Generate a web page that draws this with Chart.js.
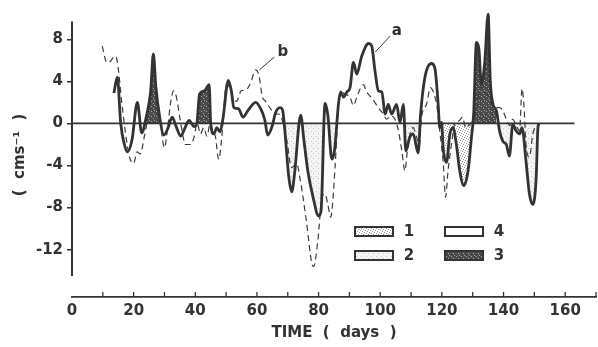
<!DOCTYPE html>
<html lang="en">
<head>
<meta charset="UTF-8">
<title>Current time series</title>
<script src="https://cdn.jsdelivr.net/npm/chart.js@4.4.1/dist/chart.umd.min.js"></script>
<style>
  body { margin: 0; background: #fff; }
</style>
</head>
<body>
<canvas id="myChart" width="598" height="347"></canvas>
<script>
// series a (solid) - days and values (cm/s)
const aDays = [13.6, 14.7, 15.8, 17.0, 18.0, 19.5, 21.2, 22.6, 24.0, 25.5, 26.4, 27.2, 28.3, 29.8, 31.2, 32.5, 33.8, 35.3, 36.4, 38.0,
    39.6, 40.5, 41.4, 43.0, 44.5, 45.0, 46.0, 47.0, 48.0, 49.0, 50.7, 51.7, 52.5, 54.0, 55.5, 57.0, 59.6, 61.2, 62.5, 63.5,
    65.0, 66.0, 67.5, 68.3, 69.0, 70.3, 71.3, 72.2, 74.2, 75.2, 76.5, 78.2, 80.0, 80.8, 82.1, 83.0, 84.3, 85.2, 86.5, 87.2,
    88.1, 89.2, 90.2, 91.3, 92.4, 94.0, 96.2, 97.2, 98.3, 99.4, 100.5, 101.6, 102.6, 103.7, 105.3, 106.4, 107.5, 108.3, 109.6, 110.7,
    112.3, 113.1, 114.5, 116.6, 117.7, 118.8, 119.3, 119.9, 120.4, 121.5, 122.6, 123.6, 124.7, 125.8, 127.1, 128.5, 129.6, 130.3, 131.2, 132.0,
    132.8, 133.9, 135.0, 135.7, 136.6, 137.7, 138.7, 139.8, 140.9, 141.9, 143.0, 144.1, 145.2, 146.0, 147.3, 148.4, 149.5, 150.6, 151.1, 151.4];
const aVals = [2.9, 4.4, 0, -2.0, -2.7, -1.5, 2.0, -0.9, 0.5, 3.0, 6.6, 3.5, 0.9, -1.1, -0.4, 0.6, -0.3, -1.2, -0.6, 0.3,
    -0.3, 0, 2.8, 3.1, 3.7, 0, -1.0, -0.4, -0.8, 0.5, 4.1, 3.1, 1.5, 1.4, 0.6, 1.2, 2.0, 1.4, 0.4, -1.1,
    -0.2, 1.0, 1.5, 1.3, -0.5, -5.0, -6.5, -4.8, 0.8, -1.5, -4.5, -7.0, -8.8, -8.3, 1.9, 0.8, -3.4, -2.5, 2.0, 3.0,
    2.5, 3.0, 3.4, 5.8, 4.7, 6.4, 7.6, 7.4, 5.0, 3.1, 3.0, 0.9, 1.8, 0.9, 1.8, 0.1, 1.8, -2.6, -1.3, -1.0,
    -2.8, 0.9, 4.4, 5.7, 5.3, 1.8, -0.4, 0.1, -2.3, -3.7, -1.0, -0.4, -2.0, -4.5, -5.9, -4.5, -1.3, 0.9, 7.7, 7.1,
    3.7, 5.8, 10.4, 4.1, 1.8, 1.2, -0.7, -1.7, -2.0, -3.1, -0.1, -0.7, -1.0, -0.4, -3.6, -6.7, -7.7, -5.1, -0.7, 0];

// series b (dashed)
const bDays = [9.8, 11.3, 12.1, 13.2, 14.2, 15.1, 16.1, 18.5, 20.0, 21.1, 22.1, 23.5, 24.5, 25.5, 26.3, 27.3, 28.5, 30.0, 31.0, 32.0,
    33.0, 33.8, 35.0, 36.0, 36.8, 38.5, 39.6, 40.6, 41.7, 42.7, 43.8, 44.8, 45.9, 46.5, 47.6, 48.5, 49.2, 50.1, 51.2, 52.2,
    53.3, 54.9, 56.5, 58.0, 59.6, 60.7, 61.7, 62.8, 64.4, 65.8, 67.0, 68.3, 69.7, 71.2, 72.9, 73.9, 76.0, 77.8, 78.4, 79.8,
    81.1, 82.1, 83.0, 83.9, 85.4, 86.1, 87.0, 88.6, 90.2, 91.3, 92.4, 93.5, 94.5, 95.6, 96.7, 97.8, 99.4, 101.0, 102.1, 103.3,
    104.8, 105.9, 107.0, 108.0, 108.8, 109.8, 110.7, 111.7, 112.7, 113.4, 115.0, 116.3, 117.2, 118.3, 119.3, 120.4, 121.2, 122.0, 123.1, 124.2,
    125.6, 126.7, 127.7, 129.0, 130.1, 131.4, 132.5, 134.0, 135.2, 136.2, 137.5, 138.7, 139.8, 140.9, 142.0, 143.0, 144.1, 145.2, 146.0, 146.6,
    147.3, 148.4, 149.5, 150.8, 152.0];
const bVals = [7.35, 5.8, 5.8, 6.2, 6.4, 5.0, 2.1, -3.0, -3.8, -2.7, -2.9, -1.2, 0.5, 3.5, 5.5, 3.0, 0.5, -2.3, -0.5, 2.0,
    3.1, 2.6, 0.5, -1.2, -2.0, -2.0, -1.3, 0, -1.0, -0.4, -1.2, 0, -0.9, -1.2, -3.4, -1.6, 1.2, 3.7, 3.4, 2.5,
    2.1, 3.1, 3.2, 3.9, 5.1, 4.5, 2.6, 2.1, 1.4, 0.9, 0.9, 0.25, -1.6, -4.2, -3.8, -5.1, -9.2, -13.3, -13.6, -11.0,
    -7.0, -6.7, -7.7, -8.9, -3.9, 0, 3.0, 2.8, 2.5, 1.7, 2.5, 3.3, 3.7, 3.0, 2.6, 2.2, 1.5, 0.9, 0.4, 0.7,
    0.4, -0.7, -2.6, -4.5, -2.6, -0.8, -0.4, -1.2, -2.1, 0.6, 1.8, 3.4, 3.0, 1.8, -0.7, -3.6, -7.0, -4.5, -2.0, 0,
    0.25, 0.6, -0.4, -0.1, 0.4, 1.5, 3.5, 3.0, 2.5, 1.8, 1.5, 1.5, 1.2, 0.4, -0.2, 0.4, -0.2, -0.7, 3.3, 1.8,
    -2.0, -3.2, -1.0, -0.2, 0];

// shaded stretches of series a (days)
const darkSpans = [[24.0, 28.3], [40.5, 45.0], [130.3, 137.7]];
const lightSpans = [[69.0, 86.5], [106.4, 113.1], [137.7, 151.4]];
const midSpans = [[119.3, 130.3]];

const zeroDays = [0, 163];
const zeroVals = [0, 0];

const xTickLabels = [0, 20, 40, 60, 80, 100, 120, 140, 160];
const xMinorTicks = [10, 20, 30, 40, 50, 60, 70, 80, 90, 100, 110, 120, 130, 140, 150, 160, 170];
const yTickLabels = [8, 4, 0, -4, -8, -12];
const yAxisRange = [9.7, -14.5];

const legendItems = ['1', '4', '2', '3'];
const curveNotes = [
    { text: 'a', at: [105.4, 8.8], from: [98.4, 6.8], to: [103.2, 8.3] },
    { text: 'b', at: [68.4, 6.8], from: [60.8, 5.1], to: [65.6, 6.3] }
];

const ink = '#333';

function makePattern(bg, dot, dots) {
    var c = document.createElement('canvas');
    c.width = 5; c.height = 5;
    var g = c.getContext('2d');
    g.fillStyle = bg;
    g.fillRect(0, 0, 5, 5);
    g.fillStyle = dot;
    dots.forEach(function (p) { g.fillRect(p[0], p[1], 1, 1); });
    return g.createPattern(c, 'repeat');
}
const darkFill = makePattern('#4a4a4a', '#a8a8a8', [[1, 1], [3, 3], [4, 0]]);
const midFill = makePattern('#ffffff', '#9a9a9a', [[0, 0], [2, 1], [4, 2], [1, 3], [3, 4]]);
const lightFill = makePattern('#f4f4f4', '#c4c4c4', [[1, 1], [3, 3]]);
const legendFills = { '1': midFill, '2': lightFill, '3': darkFill, '4': '#ffffff' };

function pts(days, vals) {
    return days.map((d, i) => ({ x: d, y: vals[i] }));
}
function masked(spans) {
    return aDays.map((d, i) => ({
        x: d,
        y: spans.some(s => d >= s[0] && d <= s[1]) ? aVals[i] : null
    }));
}
function fillSet(spans, above, below) {
    return {
        data: masked(spans),
        borderWidth: 0,
        pointRadius: 0,
        cubicInterpolationMode: 'monotone',
        fill: { target: 'origin', above: above, below: below },
        clip: false,
        order: 5
    };
}

const overlay = {
    id: 'overlay',
    afterDraw(chart) {
        const { ctx, scales: { x, y } } = chart;
        const base = chart.chartArea.bottom;
        ctx.save();
        ctx.strokeStyle = ink;
        ctx.lineWidth = 2;
        // vertical axis, detached from the time axis
        ctx.beginPath();
        ctx.moveTo(x.getPixelForValue(0), y.getPixelForValue(yAxisRange[0]));
        ctx.lineTo(x.getPixelForValue(0), y.getPixelForValue(yAxisRange[1]));
        ctx.stroke();
        // time axis ticks point upwards
        ctx.lineWidth = 1.3;
        ctx.beginPath();
        xMinorTicks.forEach(d => {
            const px = x.getPixelForValue(d);
            ctx.moveTo(px, base);
            ctx.lineTo(px, base - 5);
        });
        ctx.stroke();
        // curve names
        ctx.fillStyle = ink;
        ctx.font = 'bold 15px "DejaVu Sans", sans-serif';
        ctx.textAlign = 'center';
        ctx.textBaseline = 'middle';
        ctx.lineWidth = 1;
        curveNotes.forEach(n => {
            ctx.beginPath();
            ctx.moveTo(x.getPixelForValue(n.from[0]), y.getPixelForValue(n.from[1]));
            ctx.lineTo(x.getPixelForValue(n.to[0]), y.getPixelForValue(n.to[1]));
            ctx.stroke();
            ctx.fillText(n.text, x.getPixelForValue(n.at[0]), y.getPixelForValue(n.at[1]));
        });
        // legend boxes, 2 x 2
        legendItems.forEach((lab, i) => {
            const col = i % 2, row = Math.floor(i / 2);
            const bx = 355 + col * 90, by = 227 + row * 24;
            ctx.fillStyle = legendFills[lab];
            ctx.fillRect(bx, by, 38, 9);
            ctx.lineWidth = 2;
            ctx.strokeRect(bx, by, 38, 9);
            ctx.fillStyle = ink;
            ctx.fillText(lab, bx + 54, by + 5);
        });
        ctx.restore();
    }
};

const font = { family: '"DejaVu Sans", sans-serif', size: 15, weight: 'bold' };

var ctx = document.getElementById('myChart').getContext('2d');
var myChart = new Chart(ctx, {
    type: 'line',
    data: {
        datasets: [
            fillSet(darkSpans, darkFill, 'rgba(0,0,0,0)'),
            fillSet(midSpans, 'rgba(0,0,0,0)', midFill),
            fillSet(lightSpans, 'rgba(0,0,0,0)', lightFill),
            {
                label: 'zero',
                data: pts(zeroDays, zeroVals),
                borderColor: ink,
                borderWidth: 1.8,
                pointRadius: 0,
                order: 3
            },
            {
                label: 'b',
                data: pts(bDays, bVals),
                borderColor: '#3c3c3c',
                borderWidth: 1.2,
                borderDash: [6, 4],
                pointRadius: 0,
                cubicInterpolationMode: 'monotone',
                clip: false,
                order: 2
            },
            {
                label: 'a',
                data: pts(aDays, aVals),
                borderColor: ink,
                borderWidth: 2.8,
                pointRadius: 0,
                cubicInterpolationMode: 'monotone',
                clip: false,
                order: 1
            }
        ]
    },
    options: {
        responsive: false,
        animation: false,
        devicePixelRatio: 1,
        layout: { padding: { top: 6, right: 2, left: 0, bottom: 0 } },
        plugins: {
            legend: { display: false },
            tooltip: { enabled: false }
        },
        scales: {
            x: {
                type: 'linear',
                min: 0,
                max: 170,
                afterFit: s => { s.height = 50; },
                afterBuildTicks: s => { s.ticks = xTickLabels.map(v => ({ value: v })); },
                grid: { drawOnChartArea: false, drawTicks: false },
                border: { color: ink, width: 1.8 },
                ticks: { color: ink, font: font, padding: 5, maxRotation: 0 },
                title: {
                    display: true,
                    text: 'TIME  (  days  )',
                    color: ink,
                    font: font,
                    padding: { top: 0, bottom: 5 }
                }
            },
            y: {
                min: -16.5,
                max: 10.5,
                afterFit: s => { s.width = 72; },
                afterBuildTicks: s => { s.ticks = yTickLabels.map(v => ({ value: v })); },
                grid: { drawOnChartArea: false, drawTicks: true, tickLength: 5, color: ink, lineWidth: 1.5 },
                border: { display: false },
                ticks: { color: ink, font: font, padding: 4 },
                title: {
                    display: true,
                    text: '(  cms\u207B\u00B9  )',
                    color: ink,
                    font: font,
                    padding: { top: 11, bottom: 0 }
                }
            }
        }
    },
    plugins: [overlay]
});
</script>
</body>
</html>
